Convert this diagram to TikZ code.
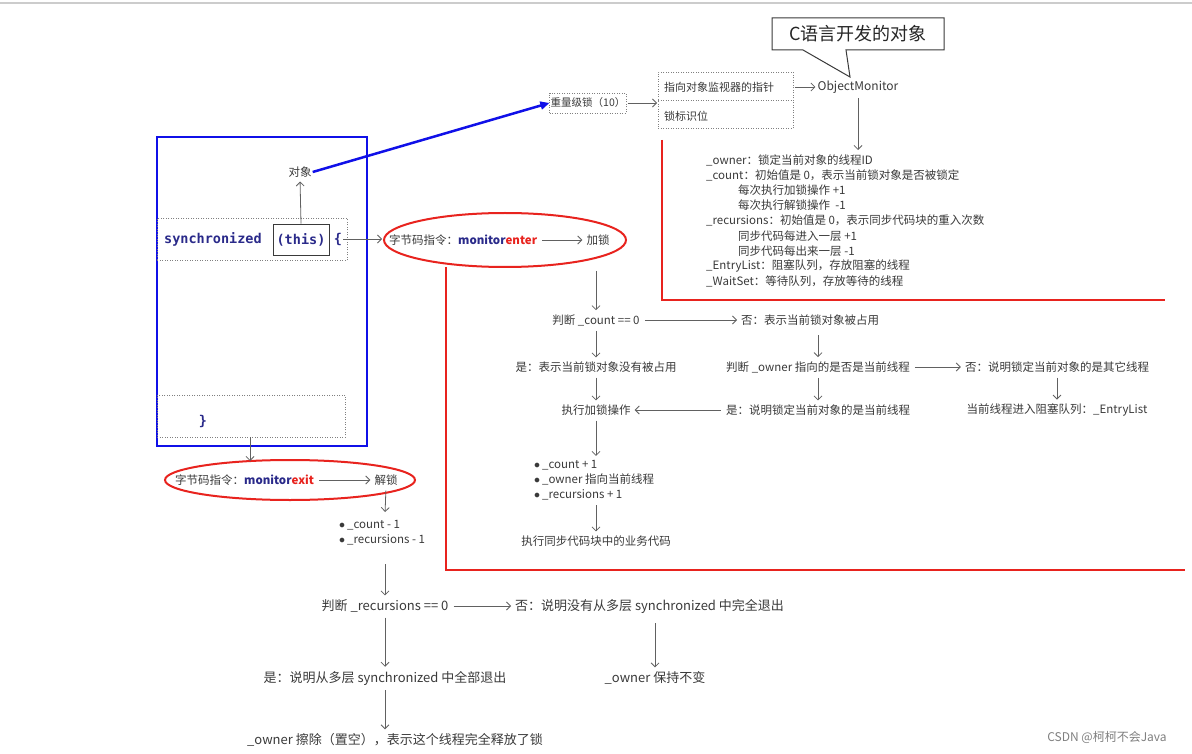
\documentclass[tikz,border=0pt]{standalone}
\usepackage{fontspec}
\setmainfont{Noto Sans CJK SC}
\setmonofont{DejaVu Sans Mono}
\usetikzlibrary{arrows.meta}
\definecolor{tx}{HTML}{3A3A3A}
\definecolor{kw}{HTML}{2A2A8A}
\definecolor{rd}{HTML}{E8231E}
\definecolor{bl}{HTML}{1010E8}
\begin{document}
\begin{tikzpicture}[x=1pt,y=-1pt,
  t/.style={text=tx,font=\fontsize{11.5}{14}\selectfont,inner sep=1pt},
  tl/.style={t,anchor=west},
  fl/.style={text=tx,font=\fontsize{11.5}{14}\selectfont,inner sep=0pt,anchor=west},
  big/.style={text=tx,font=\fontsize{13}{15}\selectfont,inner sep=1pt},
  code/.style={font=\ttfamily\bfseries\fontsize{13.5}{15}\selectfont,text=kw,inner sep=0},
  ar/.style={draw=tx!80,-{Straight Barb[length=4pt]},line width=0.8pt,shorten >=3pt,shorten <=4pt},
  dotbox/.style={draw=gray,dash pattern=on 1pt off 1.5pt,line width=0.6pt},
  redl/.style={draw=rd,line width=2pt}]
\useasboundingbox (0,0) rectangle (1192,754);
\fill[white] (0,0) rectangle (1192,754);
\draw[gray!40,line width=1.5pt] (0,3) -- (1192,3);
% left code block
\draw[bl,line width=2.5pt] (157,137) rectangle (367,446);
\node[dotbox,minimum width=190,minimum height=42,anchor=north west,inner sep=0] (sync) at (157,218) {};
\node[code,anchor=west] (synctxt) at (164,239) {synchronized};
\node[code,draw=tx,line width=0.7pt,minimum width=56,minimum height=31] (this) at (301,239.5) {(this)};
\node[code] (brace) at (338,239) {\{};
\node[t] (obj) at (300,172) {对象};
\draw[ar,shorten <=0pt] (this.north) -- (obj.south);
\node[dotbox,minimum width=188,minimum height=42,anchor=north west,inner sep=0] (endb) at (157,395) {};
\node[code] (ebrace) at (203,421) {\}};
% heavy lock
\node[dotbox,text=tx,font=\fontsize{10.5}{12}\selectfont,inner sep=1pt,minimum height=20] (heavy) at (588,103) {重量级锁（10）};
\draw[bl,line width=2.5pt,-{Triangle[length=9pt,width=8pt]}] (obj.east) -- (heavy.west);
\node[dotbox,minimum width=135,minimum height=56,anchor=north west,inner sep=0] (mw) at (658,72) {};
\draw[gray,dash pattern=on 1pt off 1.5pt,line width=0.6pt] (658,100) -- (793,100);
\node[fl,font=\fontsize{11}{13}\selectfont] (ptr) at (664,87) {指向对象监视器的指针};
\node[fl,font=\fontsize{11}{13}\selectfont] (flag) at (664,116) {锁标识位};
\draw[ar,shorten <=1pt,shorten >=1pt] (heavy.east) -- (mw.west |- heavy.east);
\node[t,font=\fontsize{12}{14}\selectfont] (om) at (858,87) {ObjectMonitor};
\draw[ar,shorten <=1pt,shorten >=1pt] (mw.east |- om) -- (om.west);
\draw[tx,line width=1pt,fill=white] (772,18) -- (944,18) -- (944,50) -- (846,50) -- (850,77) -- (803,50) -- (772,50) -- cycle;
\node[text=black!85,font=\fontsize{18}{20}\selectfont] (callout) at (858,34) {C语言开发的对象};
\coordinate (fld) at (858,150);
\draw[ar,shorten >=0pt] (om.south) -- (fld);
\node[fl] at (706,160) {\_owner：锁定当前对象的线程ID};
\node[fl] at (706,175) {\_count：初始值是 0，表示当前锁对象是否被锁定};
\node[fl] at (738,190) {每次执行加锁操作 +1};
\node[fl] at (738,205) {每次执行解锁操作 \ -1};
\node[fl] at (706,220) {\_recursions：初始值是 0，表示同步代码块的重入次数};
\node[fl] at (738,236) {同步代码每进入一层 +1};
\node[fl] at (738,251) {同步代码每出来一层 -1};
\node[fl] at (706,266) {\_EntryList：阻塞队列，存放阻塞的线程};
\node[fl] at (706,281) {\_WaitSet：等待队列，存放等待的线程};
% red lines
\draw[redl] (662,140) -- (662,300) -- (1165,300);
% monitorenter
\draw[rd,line width=2pt] (505,240) ellipse [x radius=121,y radius=27];
\node[tl] (enter) at (388,240) {字节码指令：\textbf{\color{kw}monitor}\textbf{\color{rd}enter}};
\node[t] (lock) at (598,240) {加锁};
\draw[ar,shorten <=1pt,shorten >=1pt] (brace.east) -- (383,239);
\draw[ar] (enter.east) -- (lock.west);
\draw[redl] (446,267) -- (446,570) -- (1185,570);
% flow
\node[t] (c0) at (596,320) {判断 \_count == 0};
\node[tl] (no1) at (740,320) {否：表示当前锁对象被占用};
\node[t] (yes1) at (596,367) {是：表示当前锁对象没有被占用};
\node[t] (own) at (818,367) {判断 \_owner 指向的是否是当前线程};
\node[t] (no2) at (1057,367) {否：说明锁定当前对象的是其它线程};
\node[t] (el) at (1057,410) {当前线程进入阻塞队列：\_EntryList};
\node[t] (yes2) at (818,410) {是：说明锁定当前对象的是当前线程};
\node[t] (dolock) at (596,410) {执行加锁操作};
\node[tl,align=left,font=\fontsize{11.5}{15}\selectfont] (bul) at (533,480) {$\bullet$\,\_count + 1\\$\bullet$\,\_owner 指向当前线程\\$\bullet$\,\_recursions + 1};
\node[t] (biz) at (596,541) {执行同步代码块中的业务代码};
\coordinate (lk) at (596,267);
\draw[ar] (lk) -- (c0.north);
\draw[ar] (c0.east) -- (no1.west);
\draw[ar] (c0.south) -- (yes1.north);
\coordinate (n1) at (818,331);
\draw[ar] (n1) -- (own.north);
\draw[ar] (own.east) -- (no2.west);
\draw[ar] (no2.south) -- (el.north);
\draw[ar] (own.south) -- (yes2.north);
\draw[ar] (yes2.west) -- (dolock.east);
\draw[ar] (yes1.south) -- (dolock.north);
\draw[ar] (dolock.south) -- (bul.north -| dolock);
\draw[ar] (bul.south -| dolock) -- (biz.north);
% monitorexit
\draw[rd,line width=2pt] (290,480) ellipse [x radius=125,y radius=20];
\node[tl] (exit) at (174,480) {字节码指令：\textbf{\color{kw}monitor}\textbf{\color{rd}exit}};
\node[t] (unlock) at (386,480) {解锁};
\coordinate (eb) at (250,437);
\draw[ar,shorten <=0pt,shorten >=1pt] (eb) -- (250,462);
\draw[ar] (exit.east) -- (unlock.west);
\node[tl,align=left,font=\fontsize{11.5}{15}\selectfont] (bul2) at (338,533) {$\bullet$\,\_count - 1\\$\bullet$\,\_recursions - 1};
\draw[ar] (unlock.south) -- (385,515);
% lower part
\node[big] (r0) at (385,606) {判断 \_recursions == 0};
\node[big,anchor=west] (no3) at (514,606) {否：说明没有从多层 synchronized 中完全退出};
\node[big] (keep) at (655,678) {\_owner 保持不变};
\node[big] (yes3) at (385,678) {是：说明从多层 synchronized 中全部退出};
\node[big] (clr) at (395,740) {\_owner 擦除（置空），表示这个线程完全释放了锁};
\coordinate (s0) at (385,560);
\draw[ar] (s0) -- (r0.north);
\draw[ar] (r0.east) -- (no3.west);
\coordinate (n3) at (655,619);
\draw[ar] (n3) -- (keep.north);
\draw[ar] (r0.south) -- (yes3.north);
\draw[ar] (yes3.south) -- (clr.north -| yes3);
\node[text=gray,font=\fontsize{12}{14}\selectfont] (wm) at (1107,737) {CSDN @柯柯不会Java};
\end{tikzpicture}
\end{document}
